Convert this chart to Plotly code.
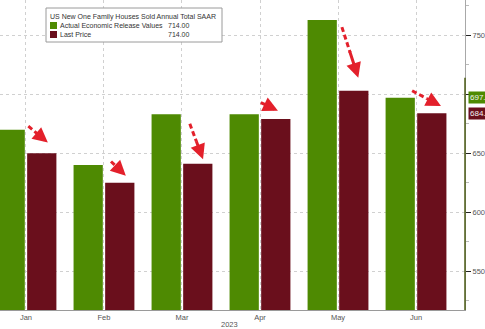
import plotly.graph_objects as go

# Monthly new one-family home sales, SAAR (thousands)
months = ["Jan", "Feb", "Mar", "Apr", "May", "Jun"]
actual_release = [670, 640, 683, 683, 763, 697]
last_price = [650, 625, 641, 679, 703, 684]
legend_title = "US New One Family Houses Sold Annual Total SAAR"
legend_value = 714.00
y_ticks = [550, 600, 650, 700, 750]

GREEN = "#4e8a02"
MAROON = "#6a0f1c"
RED = "#e3202b"
FONT = "Liberation Sans"

W, H = 485, 329
ML, MR, MT, MB = 0, 20, 0, 19
PW, PH = W - ML - MR, H - MT - MB


def px(x):
    return x / PW


def py(y):
    return 1 - y / PH


x_idx = list(range(len(months)))

fig = go.Figure()
fig.add_trace(go.Bar(x=x_idx, y=actual_release, marker_color=GREEN, marker_line_width=0,
                     width=0.375, offset=-0.39, name="Actual Economic Release Values",
                     base=0))
fig.add_trace(go.Bar(x=x_idx, y=last_price, marker_color=MAROON, marker_line_width=0,
                     width=0.375, offset=0.015, name="Last Price", base=0))

# Revision arrows: start just above the released value, tip over the revised bar
arrows = [
    (0.03, 673, 0.28, 659),
    (1.09, 643, 1.28, 631),
    (2.10, 675, 2.27, 645),
    (3.01, 693, 3.23, 686),
    (4.05, 757, 4.26, 714),
    (4.95, 703, 5.32, 690),
]
shapes = []
annotations = []
for x0, y0, x1, y1 in arrows:
    xm = x0 + (x1 - x0) * 0.45
    ym = y0 + (y1 - y0) * 0.45
    xs = x0 + (x1 - x0) * 0.5
    ys = y0 + (y1 - y0) * 0.5
    shapes.append(dict(type="line", xref="x", yref="y", x0=x0, y0=y0, x1=xs, y1=ys,
                       line=dict(color=RED, width=3, dash="5px,3px"), layer="above"))
    annotations.append(dict(x=x1, y=y1, ax=xm, ay=ym, xref="x", yref="y",
                            axref="x", ayref="y", text="", showarrow=True,
                            arrowhead=2, arrowsize=1.0, arrowwidth=3, arrowcolor=RED,
                            standoff=0, startstandoff=0))

# Right axis highlight below the latest level
shapes.append(dict(type="line", xref="paper", yref="y", x0=1, x1=1, y0=517, y1=legend_value,
                   line=dict(color="#4d5c16", width=1.5), layer="above"))

# Legend box
shapes.append(dict(type="rect", xref="paper", yref="paper", x0=px(46), x1=px(222),
                   y0=py(8), y1=py(42), fillcolor="white", line=dict(color="#9a9a9a", width=1),
                   layer="above"))
shapes.append(dict(type="rect", xref="paper", yref="paper", x0=px(50), x1=px(57),
                   y0=py(22), y1=py(29), fillcolor=GREEN, line_width=0, layer="above"))
shapes.append(dict(type="rect", xref="paper", yref="paper", x0=px(50), x1=px(57),
                   y0=py(31), y1=py(38), fillcolor=MAROON, line_width=0, layer="above"))

lfont = dict(family=FONT, size=7, color="#333333")
annotations += [
    dict(xref="paper", yref="paper", x=px(48), y=py(16.5), text=legend_title,
         showarrow=False, xanchor="left", yanchor="middle", font=lfont),
    dict(xref="paper", yref="paper", x=px(58), y=py(25.5), text="Actual Economic Release Values",
         showarrow=False, xanchor="left", yanchor="middle", font=lfont),
    dict(xref="paper", yref="paper", x=px(58), y=py(34.5), text="Last Price",
         showarrow=False, xanchor="left", yanchor="middle", font=lfont),
    dict(xref="paper", yref="paper", x=px(192), y=py(25.5), text=f"{legend_value:.2f}",
         showarrow=False, xanchor="right", yanchor="middle", font=lfont),
    dict(xref="paper", yref="paper", x=px(192), y=py(34.5), text=f"{legend_value:.2f}",
         showarrow=False, xanchor="right", yanchor="middle", font=lfont),
]

# Last-value tags on the right axis
for val, col in [(actual_release[-1], GREEN), (last_price[-1], MAROON)]:
    annotations.append(dict(xref="paper", yref="y", x=1, y=val, xanchor="left", xshift=3,
                            text=f"{val:.2f}", showarrow=False, bgcolor=col, borderpad=1,
                            font=dict(family=FONT, size=8, color="#f2f2f2")))

annotations.append(dict(xref="paper", yref="paper", x=px(229), y=py(324), text="2023",
                        showarrow=False, xanchor="center", yanchor="middle",
                        font=dict(family=FONT, size=7.5, color="#555555")))

fig.update_layout(
    width=W, height=H,
    margin=dict(l=ML, r=MR, t=MT, b=MB),
    paper_bgcolor="white", plot_bgcolor="white",
    showlegend=False, barmode="overlay",
    shapes=shapes, annotations=annotations,
    font=dict(family=FONT, size=7.5, color="#555555"),
)
fig.update_xaxes(range=[-0.333, 5.628], tickvals=x_idx, ticktext=months,
                 showgrid=True, gridcolor="#d0d0d0", griddash="dot", gridwidth=1,
                 showline=True, linecolor="#9a9a9a", ticks="", zeroline=False,
                 tickfont=dict(size=7.5, color="#555555"))
fig.update_yaxes(range=[517, 780], side="right", tickvals=y_ticks,
                 ticktext=[str(v) if v != 700 else "" for v in y_ticks],
                 showgrid=True, gridcolor="#d0d0d0", griddash="dot", gridwidth=1,
                 showline=True, linecolor="#a8a8a8", ticks="outside", ticklen=5,
                 tickcolor="#222222", zeroline=False,
                 minor=dict(tickvals=[525, 575, 625, 675, 725, 775], ticks="outside",
                            ticklen=3, tickcolor="#bbbbbb", showgrid=False),
                 tickfont=dict(size=7.5, color="#555555"))

fig.write_html("out.html")
